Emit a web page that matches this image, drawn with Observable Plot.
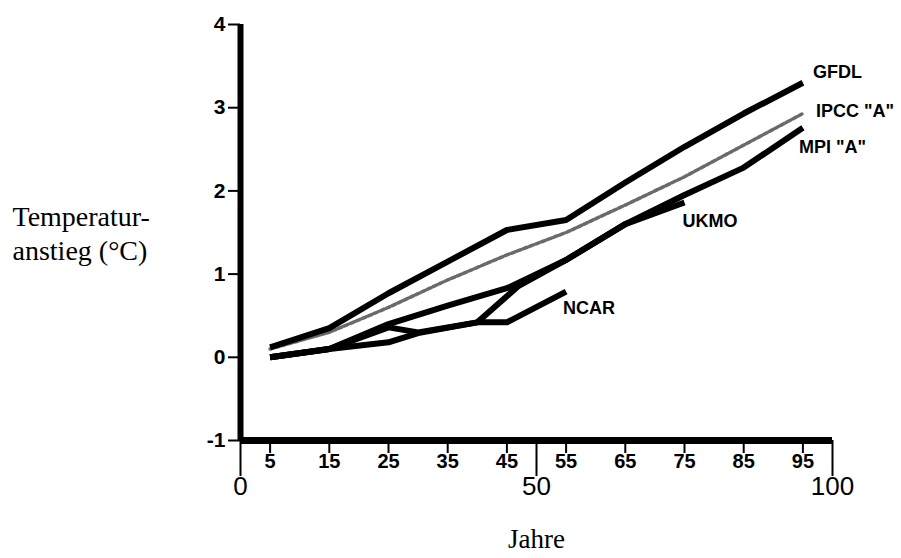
<!DOCTYPE html>
<html><head><meta charset="utf-8">
<script src="https://cdn.jsdelivr.net/npm/d3@7"></script>
<script src="https://cdn.jsdelivr.net/npm/@observablehq/plot@0.6"></script>
<style>body{margin:0;background:#fff}</style>
</head><body><div id="chart"></div>
<script>
// ---- data ----
const years = [5, 15, 25, 35, 45, 55, 65, 75, 85, 95];
const gfdl  = [0.12, 0.35, 0.77, 1.15, 1.53, 1.65, 2.10, 2.53, 2.93, 3.30];
const ipcc  = [0.10, 0.30, 0.60, 0.93, 1.23, 1.50, 1.83, 2.17, 2.55, 2.93];
const mpi   = [0.00, 0.10, 0.40, 0.62, 0.83, 1.17, 1.60, 1.95, 2.28, 2.76];
const ukmoYears = [5, 15, 25, 30, 40, 47, 55, 65, 75];
const ukmo      = [0.00, 0.10, 0.18, 0.29, 0.42, 0.86, 1.17, 1.60, 1.86];
const ncarYears = [5, 15, 25, 30, 40, 45, 55];
const ncar      = [0.00, 0.10, 0.36, 0.30, 0.42, 0.42, 0.79];
const seriesNames = ["GFDL", "IPCC \"A\"", "MPI \"A\"", "UKMO", "NCAR"];
const minorTicks = [5, 15, 25, 35, 45, 55, 65, 75, 85, 95];
const majorTicks = [0, 50, 100];
const yTicks = [-1, 0, 1, 2, 3, 4];
const yLabel = "Temperatur-\nanstieg (°C)";
const xLabel = "Jahre";

const SANS = '"Liberation Sans Narrow", "Arial Narrow", "Liberation Sans", Arial, sans-serif';
const LSANS = '"Liberation Sans", Arial, sans-serif';
const SERIF = '"Liberation Serif", "Times New Roman", serif';

const rows = (name, xs, ys) => xs.map((x, i) => ({series: name, year: x, temp: ys[i]}));
const solid = [
  ...rows(seriesNames[0], years, gfdl),
  ...rows(seriesNames[2], years, mpi),
  ...rows(seriesNames[3], ukmoYears, ukmo),
  ...rows(seriesNames[4], ncarYears, ncar)
];
const dashed = rows(seriesNames[1], years, ipcc);
const lastOf = (name) => {
  const all = solid.concat(dashed).filter(d => d.series === name);
  return [all[all.length - 1]];
};
const labelOffsets = {
  "GFDL": [10, -11],
  "IPCC \"A\"": [13, -2],
  "MPI \"A\"": [-4, 20],
  "UKMO": [-2, 19],
  "NCAR": [-3, 17]
};

const chart = Plot.plot({
  width: 901,
  height: 558,
  marginLeft: 240,
  marginRight: 69,
  marginTop: 24,
  marginBottom: 118,
  style: {background: "#fff", color: "#000", fontFamily: LSANS},
  x: {domain: [0, 100]},
  y: {domain: [-1, 4]},
  marks: [
    Plot.line(dashed, {x: "year", y: "temp", z: "series", stroke: "#6a6a6a", strokeWidth: 3.5, strokeDasharray: "4 2.5", strokeLinejoin: "round"}),
    Plot.line(solid, {x: "year", y: "temp", z: "series", stroke: "#000", strokeWidth: 6, strokeLinejoin: "round", strokeLinecap: "butt"}),
    ...seriesNames.map(n => Plot.text(lastOf(n), {
      x: "year", y: "temp", text: "series", textAnchor: "start",
      dx: labelOffsets[n][0], dy: labelOffsets[n][1],
      fontFamily: LSANS, fontSize: 18, fontWeight: "bold", fill: "#000"
    })),
    Plot.axisY(yTicks, {anchor: "left", tickSize: 12, tickPadding: 3, tickFormat: d => String(d),
      fontSize: 21, fontWeight: "bold", fontFamily: SANS, label: null, strokeWidth: 2}),
    Plot.axisX(minorTicks, {anchor: "bottom", tickSize: 13, tickPadding: 0, tickFormat: d => String(d),
      fontSize: 20, fontWeight: "bold", fontFamily: SANS, label: null, strokeWidth: 2}),
    Plot.axisX(majorTicks, {anchor: "bottom", tickSize: 36, tickPadding: 0, tickFormat: d => String(d),
      fontSize: 26, fontFamily: SANS, label: null, strokeWidth: 2}),
    Plot.ruleY([-1], {x1: 0, x2: 100, stroke: "#000", strokeWidth: 7}),
    Plot.ruleX([0], {y1: -1, y2: 4, stroke: "#000", strokeWidth: 6}),
    Plot.text([yLabel], {x: 0, y: 1.5, dx: -228, textAnchor: "start", fontFamily: SERIF, fontSize: 28, lineHeight: 1.2, fill: "#000"}),
    Plot.text([xLabel], {x: 50, y: -1, dy: 99, fontFamily: SERIF, fontSize: 27, fill: "#000"})
  ]
});
document.getElementById("chart").appendChild(chart);
</script>
</body></html>
